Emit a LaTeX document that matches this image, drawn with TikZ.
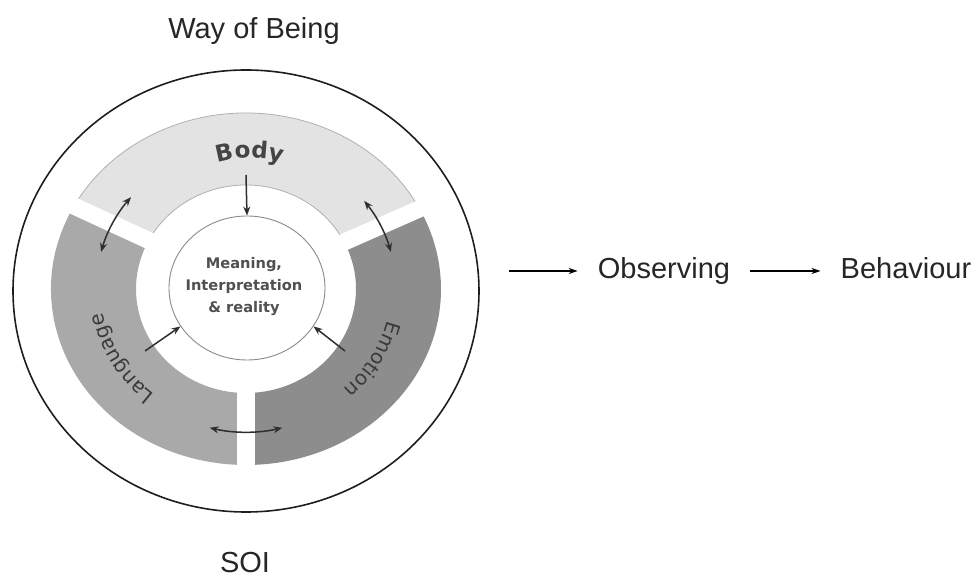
\documentclass[tikz,border=0pt]{standalone}
\usepackage{fontspec}
\setmainfont{Liberation Sans}
\newfontfamily\dejavu{DejaVu Sans}
\usetikzlibrary{shapes.geometric,arrows.meta,decorations.text}

\definecolor{labeltext}{HTML}{262626}
\definecolor{ringline}{HTML}{1E1E1E}
\definecolor{bodyband}{HTML}{E3E3E3}
\definecolor{bodyline}{HTML}{B0B0B0}
\definecolor{langband}{HTML}{A9A9A9}
\definecolor{emoband}{HTML}{8D8D8D}
\definecolor{bandtext}{HTML}{3A3A3A}
\definecolor{bodytext}{HTML}{444444}
\definecolor{meaningtext}{HTML}{505050}
\definecolor{innerline}{HTML}{8A8A8A}
\definecolor{arrowcol}{HTML}{2E2E2E}

\newcommand\bandfont{\dejavu\fontsize{20}{20}\selectfont\color{bandtext}}
\newcommand\bodyfont{\dejavu\bfseries\fontsize{23}{23}\selectfont\color{bodytext}}

\begin{document}
\begin{tikzpicture}[x=1pt, y=1pt,
		outer/.style={font=\fontsize{29}{29}\selectfont, text=labeltext, text height=21pt, text depth=6pt, inner xsep=20pt, inner ysep=0pt},
		arr/.style={draw=arrowcol, line width=1.5pt, -{Stealth[length=9pt, width=7pt]}},
		dbl/.style={draw=arrowcol, line width=1.5pt, {Stealth[length=9pt, width=7pt]}-{Stealth[length=9pt, width=7pt]}},
		flow/.style={draw=black, line width=1.2pt, -{Stealth[length=9pt, width=6pt]}}]
	\useasboundingbox (-246,-291) rectangle (731,289);
	% outer ring
	\draw[ringline, line width=1.6pt] (0,-2) ellipse [x radius=233, y radius=221];
	% the three bands
	\foreach \a/\b/\c in {27/152/bodyband, 152/270/langband, 270/387/emoband}
		\fill[\c] (\a:195 and 176) arc[start angle=\a, end angle=\b, x radius=195, y radius=176]
			-- (\b:110 and 104) arc[start angle=\b, end angle=\a, x radius=110, y radius=104] -- cycle;
	\draw[bodyline, line width=0.8pt] (27:195 and 176) arc[start angle=27, end angle=152, x radius=195, y radius=176];
	\draw[bodyline, line width=0.8pt] (27:110 and 104) arc[start angle=27, end angle=152, x radius=110, y radius=104];
	\foreach \a in {27,152,270}
		\draw[white, line width=17pt] (\a:104 and 98) -- (\a:201 and 182);
	% band labels
	\path[decorate, decoration={text along path, text={|\bodyfont|Body}, text align=center}]
		(4,21) ++(115:110) arc[start angle=115, end angle=65, radius=110];
	\path[decorate, decoration={text along path, text={|\bandfont|Language}, text align=center}]
		(250:145 and 135) arc[start angle=250, end angle=170, x radius=145, y radius=135];
	\path[decorate, decoration={text along path, text={|\bandfont|Emotion}, text align=center}]
		(370:145 and 135) arc[start angle=370, end angle=290, x radius=145, y radius=135];
	% centre
	\node[ellipse, draw=innerline, fill=white, line width=0.9pt, minimum width=156pt, minimum height=144pt] (meaning) at (1,1) {};
	\node[font=\dejavu\bfseries\fontsize{14.6}{22}\selectfont, text=meaningtext, align=center] (mtext) at (-2,2) {Meaning,\\Interpretation\\\& reality};
	% arrows
	\coordinate (bodyfoot) at (0,114);
	\coordinate (langfoot) at (-101,-62);
	\coordinate (emofoot) at (99,-62);
	\draw[arr] (bodyfoot) -- (meaning.north);
	\draw[arr] (langfoot) -- (meaning.210);
	\draw[arr] (emofoot) -- (meaning.-30);
	\coordinate (lb1) at (165:150 and 143);
	\coordinate (rb1) at (38:150 and 143);
	\coordinate (le1) at (256:150 and 143);
	\draw[dbl] (lb1) arc[start angle=165, end angle=140, x radius=150, y radius=143];
	\draw[dbl] (rb1) arc[start angle=38, end angle=15, x radius=150, y radius=143];
	\draw[dbl] (le1) arc[start angle=256, end angle=284, x radius=150, y radius=143];
	% outside labels
	\node[outer] (way) at (8,258) {Way of Being};
	\node[outer] (soi) at (-1,-276) {SOI};
	\coordinate (ringout) at (263,18);
	\node[outer] (obs) at (418,18) {Observing};
	\node[outer] (beh) at (660,18) {Behaviour};
	\draw[flow] (ringout) -- (obs);
	\draw[flow] (obs) -- (beh);
\end{tikzpicture}
\end{document}
